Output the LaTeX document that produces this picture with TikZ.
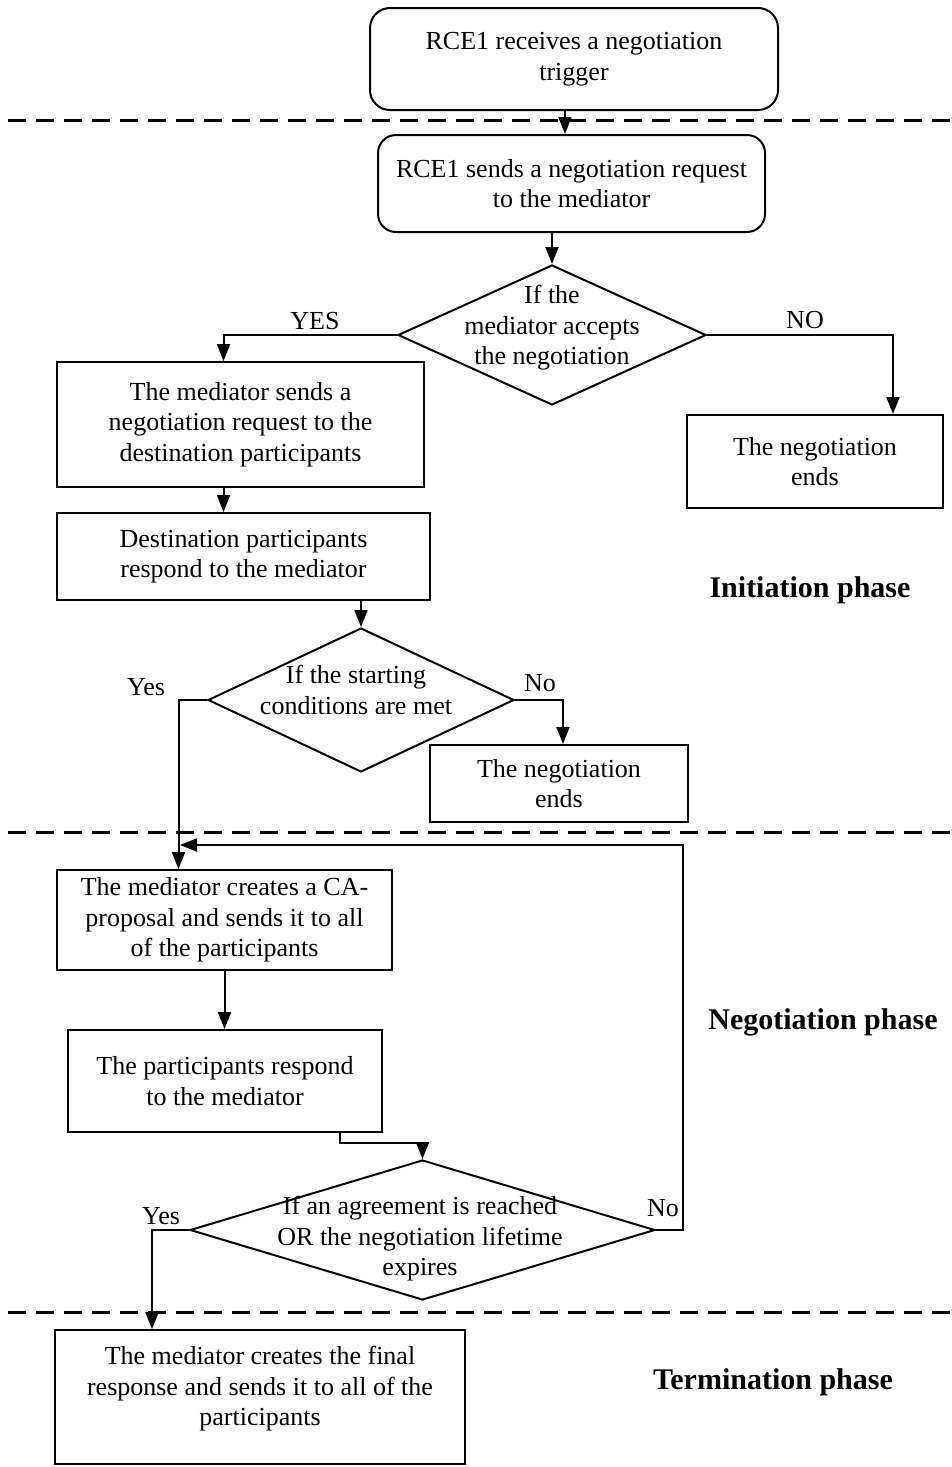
\documentclass[tikz,border=0pt]{standalone}
\usepackage{fontspec}
\setmainfont{Liberation Serif}
\usetikzlibrary{arrows.meta,shapes.geometric}
\begin{document}
\begin{tikzpicture}[x=1pt,y=-1pt,
  every node/.style={font=\fontsize{26}{30.5}\selectfont},
  stepbox/.style={draw,line width=2pt,rectangle,align=center,inner sep=0pt},
  roundbox/.style={stepbox,rounded corners=20pt},
  decision/.style={draw,line width=2pt,diamond,inner sep=0pt,shape aspect=2},
  txt/.style={align=center,inner sep=0pt},
  arr/.style={line width=2pt,-{Triangle[length=17pt,width=13pt]}},
  conn/.style={line width=2pt},
  phaseline/.style={line width=3pt,dash pattern=on 18pt off 10pt},
  phase/.style={font=\fontsize{30}{34}\selectfont\bfseries}]
\useasboundingbox (0,0) rectangle (952,1467);

% phase separators
\coordinate (s1l) at (8,120);   \coordinate (s1r) at (952,120);
\coordinate (s2l) at (8,832);   \coordinate (s2r) at (952,832);
\coordinate (s3l) at (8,1312);  \coordinate (s3r) at (952,1312);
\draw[phaseline] (s1l) -- (s1r);
\draw[phaseline] (s2l) -- (s2r);
\draw[phaseline] (s3l) -- (s3r);

% steps
\node[roundbox,minimum width=408pt,minimum height=102pt] (b1) at (574,59)
  {RCE1 receives a negotiation\\trigger};
\node[roundbox,minimum width=387pt,minimum height=97pt,rounded corners=18pt] (b2) at (571.5,183.5)
  {RCE1 sends a negotiation request\\to the mediator};
\node[decision,minimum width=308pt,minimum height=140pt] (d1) at (552,335) {};
\node[txt] (t1) at (552,328) {If the\\mediator accepts\\the negotiation};
\node[stepbox,minimum width=367pt,minimum height=125pt] (b3) at (240.5,424.5)
  {The mediator sends a\\negotiation request to the\\destination participants};
\node[stepbox,minimum width=256pt,minimum height=93pt] (b4) at (815,461.5)
  {The negotiation\\ends};
\node[stepbox,minimum width=373pt,minimum height=87pt] (b5) at (243.5,556.5)
  {Destination participants\\respond to the mediator};
\node[decision,minimum width=306pt,minimum height=144pt] (d2) at (361,700) {};
\node[txt] (t2) at (356,690) {If the starting\\conditions are met};
\node[stepbox,minimum width=258pt,minimum height=77pt] (b7) at (559,783.5)
  {The negotiation\\ends};
\node[stepbox,minimum width=335pt,minimum height=100pt] (b6) at (224.5,920)
  {The mediator creates a CA-\\proposal and sends it to all\\of the participants};
\node[stepbox,minimum width=314pt,minimum height=102pt] (b8) at (225,1081)
  {The participants respond\\to the mediator};
\node[decision,minimum width=465pt,minimum height=140pt] (d3) at (422.5,1230) {};
\node[txt] (t3) at (420,1239) {If an agreement is reached\\OR the negotiation lifetime\\expires};
\node[stepbox,minimum width=410pt,minimum height=134pt] (b9) at (260,1397) {};
\node[txt] (t9) at (260,1389) {The mediator creates the final\\response and sends it to all of the\\participants};

% phase names
\node[phase] (p1) at (810,590) {Initiation phase};
\node[phase] (p2) at (823,1022) {Negotiation phase};
\node[phase] (p3) at (773,1382) {Termination phase};

% connectors
\draw[arr] ([xshift=-9pt]b1.south) -- ([xshift=-9pt]b1.south |- b2.north);
\draw[arr] (b2.south -| d1.north) -- (d1.north);
\draw[arr] (d1.west) -| ([xshift=-17pt]b3.north);
\draw[arr] (d1.east) -| ([xshift=78pt]b4.north);
\draw[arr] ([xshift=-17pt]b3.south) -- ([xshift=-17pt]b3.south |- b5.north);
\draw[arr] (b5.south -| d2.north) -- (d2.north);
\draw[arr] (d2.east) -| ([xshift=4pt]b7.north);
\draw[arr] (d2.west) -| ([xshift=-46pt]b6.north);
\draw[arr] (b6.south) -- (b6.south |- b8.north);
\draw[arr] ([xshift=115pt]b8.south) -- ++(0,10) -| (d3.north);
\draw[arr] (d3.west) -| ([xshift=-108pt]b9.north);
\coordinate (merge) at (180,845);
\draw[arr] (d3.east) -- ++(27,0) |- (merge);

% branch labels
\node[txt] (lyes1) at (315,321) {YES};
\node[txt] (lno1) at (805,320) {NO};
\node[txt] (lyes2) at (146,687) {Yes};
\node[txt] (lno2) at (540,683) {No};
\node[txt] (lyes3) at (161,1216) {Yes};
\node[txt] (lno3) at (663,1208) {No};
\end{tikzpicture}
\end{document}
